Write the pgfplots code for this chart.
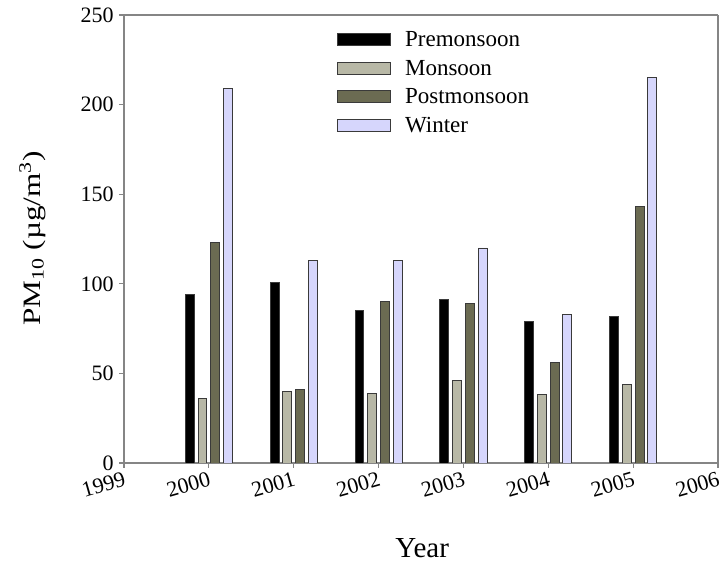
\documentclass[border=0pt]{standalone}
\usepackage{fontspec}
\setmainfont{Liberation Serif}
\usepackage{pgfplots}
\pgfplotsset{compat=1.18}

\definecolor{premon}{HTML}{000000}
\definecolor{mon}{HTML}{B8B8A6}
\definecolor{postmon}{HTML}{6B6B52}
\definecolor{winter}{HTML}{D6D6FC}
\definecolor{axisgrey}{HTML}{858585}
\definecolor{edge}{HTML}{3A3A3A}

\pgfplotsset{
  seasonbar/.style={
    draw=edge, line width=0.9pt, fill=#1,
    legend image code/.code={
      \draw[##1] (0pt,-6pt) rectangle (53pt,6pt);
      \path (65pt,0pt);
    }
  }
}

\begin{document}
\begin{tikzpicture}
\begin{axis}[
  at={(0,0)}, anchor=south west,
  scale only axis,
  width=594pt, height=448pt,
  xmin=1999, xmax=2006,
  ymin=0, ymax=250,
  ybar, bar width=0.105,
  xtick={1999,2000,...,2006},
  ytick={0,50,...,250},
  xticklabel style={rotate=16, anchor=north east, inner sep=2pt, yshift=-1pt},
  yticklabel style={xshift=-2pt},
  x tick label style={/pgf/number format/1000 sep={}},
  /pgf/number format/assume math mode=true,
  tick label style={font=\fontsize{22}{26}\selectfont},
  tick align=outside,
  major tick length=5pt,
  separate axis lines,
  axis line style={draw=axisgrey, line width=1.4pt},
  every tick/.style={draw=axisgrey, line width=1.2pt},
  xtick pos=bottom, ytick pos=left,
  xlabel={Year},
  ylabel={\scalebox{1.25}[1]{PM\textsubscript{10} (µg/m\textsuperscript{3})}},
  xlabel style={font=\fontsize{29}{34}\selectfont,
    at={(axis description cs:0.502,-0.212)}, anchor=base},
  ylabel style={font=\fontsize{25}{30}\selectfont,
    at={(axis description cs:-0.1414,0.501)}, anchor=base},
  legend style={at={(0.3586,0.968)}, anchor=north west, draw=none, fill=none,
    inner sep=0pt, font=\fontsize{23}{27}\selectfont, row sep=8pt},
  legend cell align=left,
]
% Premonsoon
\addplot[seasonbar=premon, bar shift=-0.225] coordinates
  {(2000,94) (2001,101) (2002,85) (2003,91) (2004,79) (2005,82)};
% Monsoon
\addplot[seasonbar=mon, bar shift=-0.075] coordinates
  {(2000,36) (2001,40) (2002,39) (2003,46) (2004,38) (2005,44)};
% Postmonsoon
\addplot[seasonbar=postmon, bar shift=0.075] coordinates
  {(2000,123) (2001,41) (2002,90) (2003,89) (2004,56) (2005,143)};
% Winter
\addplot[seasonbar=winter, bar shift=0.225] coordinates
  {(2000,209) (2001,113) (2002,113) (2003,120) (2004,83) (2005,215)};
\legend{Premonsoon, Monsoon, Postmonsoon, Winter}
\end{axis}
\pgfresetboundingbox
\useasboundingbox (-124pt,-101pt) rectangle (599pt,463pt);
\end{tikzpicture}
\end{document}
